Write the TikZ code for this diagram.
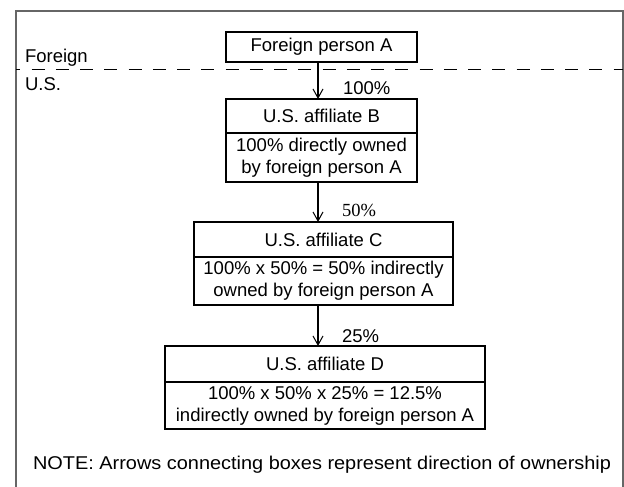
\documentclass[tikz,border=0pt]{standalone}
\usepackage{fontspec}
\setmainfont{Liberation Sans}
\newfontfamily\serifB{Liberation Serif}
\usetikzlibrary{arrows.meta}
\begin{document}
\begin{tikzpicture}[x=1pt,y=-1pt,
  box/.style={draw=black, line width=1.1pt, inner sep=0pt, outer sep=0pt, align=center, font=\fontsize{18.5}{22}\selectfont},
  lbl/.style={inner sep=0pt, outer sep=0pt, font=\fontsize{18.5}{22}\selectfont},
  own/.style={-{Straight Barb[length=9pt,width=10pt,line width=1pt]}, line width=1.1pt}]
\useasboundingbox (0,0) rectangle (624,487);
\draw[line width=2pt, color=black!60] (16,495) -- (16,11) -- (623,11) -- (623,495);
\draw[line width=1.4pt, dash pattern=on 13pt off 11.25pt, dash phase=8.55pt] (16,69.5) -- (623,69.5);

\node[lbl, anchor=base west] (fl) at (25,63) {Foreign};
\node[lbl, anchor=base west] (ul) at (25,91) {U.S.};

\node[box, minimum width=191pt, minimum height=30pt] (A) at (321.5,47) {Foreign person A};

\node[box, minimum width=191pt, minimum height=34pt] (Bt) at (321.5,116) {U.S. affiliate B};
\node[box, minimum width=191pt, minimum height=49pt] (Bb) at (321.5,157.5) {100\% directly owned\\by foreign person A};

\node[box, minimum width=259pt, minimum height=35pt] (Ct) at (323.5,239.5) {U.S. affiliate C};
\node[box, minimum width=259pt, minimum height=48pt] (Cb) at (323.5,281) {100\% x 50\% = 50\% indirectly\\owned by foreign person A};

\node[box, minimum width=320pt, minimum height=36pt] (Dt) at (325,364) {U.S. affiliate D};
\node[box, minimum width=320pt, minimum height=47pt] (Db) at (325,405.5) {100\% x 50\% x 25\% = 12.5\%\\indirectly owned by foreign person A};

\draw[own] ([xshift=-3.5pt]A.south) -- ([xshift=-3.5pt]Bt.north);
\draw[own] ([xshift=-3.5pt]Bb.south) -- ([xshift=-5.5pt]Ct.north);
\draw[own] ([xshift=-5.5pt]Cb.south) -- ([xshift=-7pt]Dt.north);

\node[lbl, anchor=west] (p1) at (343,88.3) {100\%};
\node[lbl, anchor=west, font=\fontsize{18.5}{22}\serifB] (p2) at (342,210.3) {50\%};
\node[lbl, anchor=west] (p3) at (342,336) {25\%};

\node[lbl, anchor=base west] (note) at (33,469) {\scalebox{1.077}[1]{NOTE: Arrows connecting boxes represent direction of ownership}};
\end{tikzpicture}
\end{document}
